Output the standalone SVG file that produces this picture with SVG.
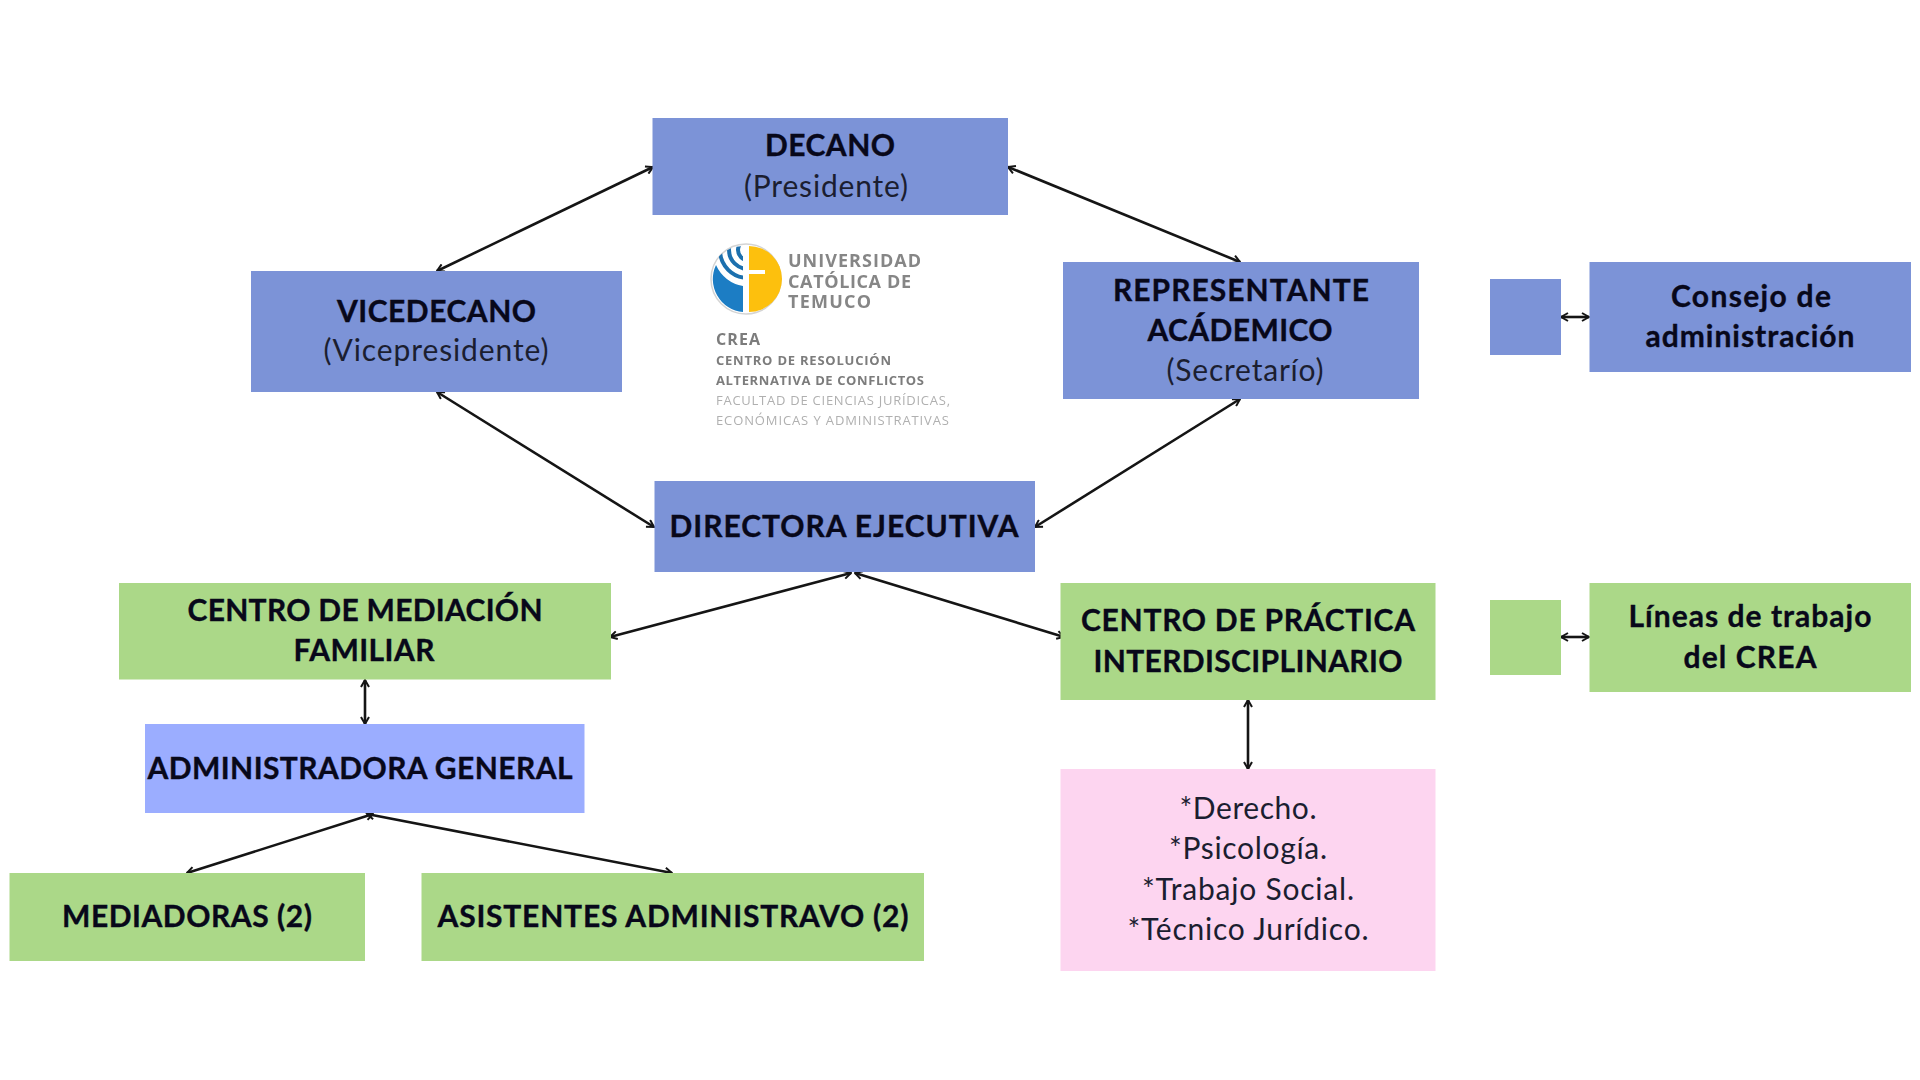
<svg xmlns="http://www.w3.org/2000/svg" width="1920" height="1080" viewBox="0 0 1920 1080">
<style>
text{font-family:"Lato","Liberation Sans",sans-serif;fill:#08081a;text-anchor:middle}
.b{font-weight:700;font-size:30px;stroke:#08081a;stroke-width:.35}
.r{font-weight:400;font-size:30px;fill:#1b1e30}
.blue{fill:#7c93d7}.green{fill:#abd888}.lav{fill:#9badff}.pink{fill:#fdd5f0}
.c line{stroke:#151515;stroke-width:2.6;marker-start:url(#a);marker-end:url(#a)}
.lg{font-family:"Open Sans","Liberation Sans",sans-serif;fill:#868686;text-anchor:start}
.lg1{font-size:18px;font-weight:700}.lg2{font-size:13px;font-weight:700;fill:#7c7c7c}.lg3{font-size:13px;fill:#b0b0b0}
</style>
<defs>
<marker id="a" viewBox="0 0 10 10" refX="9" refY="5" markerWidth="10" markerHeight="10" markerUnits="userSpaceOnUse" orient="auto-start-reverse"><path d="M2 1 9 5 2 9" fill="none" stroke="#151515" stroke-width="2"/></marker>
<filter id="soft"><feGaussianBlur stdDeviation="0.5"/></filter>
<clipPath id="lh"><path d="M743 246A33 33 0 0 0 743 312Z"/></clipPath>
</defs>
<rect width="1920" height="1080" fill="#fff"/>
<g id="connectors" class="c">
<line x1="653" y1="167" x2="437" y2="271"/>
<line x1="1008" y1="167" x2="1240" y2="262"/>
<line x1="437" y1="392" x2="654" y2="527"/>
<line x1="1240" y1="399" x2="1035" y2="527"/>
<line x1="851" y1="573" x2="610" y2="637"/>
<line x1="855" y1="573" x2="1064" y2="637"/>
<line x1="365" y1="680" x2="365" y2="724"/>
<line x1="373" y1="814" x2="187" y2="873"/>
<line x1="367" y1="814" x2="672" y2="873"/>
<line x1="1248" y1="700" x2="1248" y2="769"/>
<line x1="1561" y1="317" x2="1589" y2="317"/>
<line x1="1561" y1="637" x2="1589" y2="637"/>
</g>
<g id="decano"><rect class="blue" x="652.500" y="118" width="355.500" height="97"/>
<text class="b" x="830" y="156" textLength="130">DECANO</text>
<text class="r" x="826" y="197" textLength="164">(Presidente)</text></g>
<g id="vicedecano"><rect class="blue" x="251" y="271" width="371" height="121"/>
<text class="b" x="436.500" y="322" textLength="199">VICEDECANO</text>
<text class="r" x="436" y="361" textLength="225">(Vicepresidente)</text></g>
<g id="representante"><rect class="blue" x="1063" y="262" width="356" height="137"/>
<text class="b" x="1241" y="301" textLength="256">REPRESENTANTE</text>
<text class="b" x="1240" y="341" textLength="185">ACÁDEMICO</text>
<text class="r" x="1245" y="381" textLength="157">(Secretarío)</text></g>
<g id="leyenda-azul"><rect class="blue" x="1490" y="279" width="71" height="76"/></g>
<g id="consejo"><rect class="blue" x="1589.500" y="262" width="321.500" height="110"/>
<text class="b" x="1751" y="307" textLength="160">Consejo de</text>
<text class="b" x="1750" y="347" textLength="209">administración</text></g>
<g id="directora"><rect class="blue" x="654.500" y="481" width="380.500" height="91"/>
<text class="b" x="844" y="537" textLength="349">DIRECTORA EJECUTIVA</text></g>
<g id="centro-mediacion"><rect class="green" x="119" y="583" width="492" height="96.500"/>
<text class="b" x="365" y="621" textLength="355">CENTRO DE MEDIACIÓN</text>
<text class="b" x="364" y="661" textLength="141">FAMILIAR</text></g>
<g id="centro-practica"><rect class="green" x="1060.500" y="583" width="375" height="117"/>
<text class="b" x="1248" y="631" textLength="334">CENTRO DE PRÁCTICA</text>
<text class="b" x="1248" y="672" textLength="309">INTERDISCIPLINARIO</text></g>
<g id="leyenda-verde"><rect class="green" x="1490" y="600" width="71" height="75"/></g>
<g id="lineas"><rect class="green" x="1589.500" y="583" width="321.500" height="109"/>
<text class="b" x="1750" y="627" textLength="243">Líneas de trabajo</text>
<text class="b" x="1750" y="668" textLength="133">del CREA</text></g>
<g id="administradora"><rect class="lav" x="145" y="724" width="439.500" height="89"/>
<text class="b" x="360" y="779" textLength="425">ADMINISTRADORA GENERAL</text></g>
<g id="mediadoras"><rect class="green" x="9.500" y="873" width="355.500" height="88"/>
<text class="b" x="187" y="927" textLength="250">MEDIADORAS (2)</text></g>
<g id="asistentes"><rect class="green" x="421.500" y="873" width="502.500" height="88"/>
<text class="b" x="673" y="927" textLength="471">ASISTENTES ADMINISTRAVO (2)</text></g>
<g id="carreras"><rect class="pink" x="1060.500" y="769" width="375" height="202"/>
<text class="r" x="1248" y="819" textLength="137">*Derecho.</text>
<text class="r" x="1248" y="859" textLength="158">*Psicología.</text>
<text class="r" x="1248" y="900" textLength="212">*Trabajo Social.</text>
<text class="r" x="1248" y="940" textLength="241">*Técnico Jurídico.</text></g>
<g id="logo" filter="url(#soft)">
<circle cx="746" cy="279" r="35" fill="#fff" stroke="#d4d4d4" stroke-width="1.500"/>
<path d="M743 286A36 36 0 0 1 716 265A33 33 0 0 0 743 312Z" fill="#1b7dc4"/>
<path d="M749 246A33 33 0 0 1 749 312Z" fill="#fdc011"/>
<g clip-path="url(#lh)" fill="none" stroke="#1b6fae" stroke-width="4"><circle cx="748" cy="250" r="28"/><circle cx="748" cy="250" r="19"/><circle cx="748" cy="250" r="10"/></g>
<rect x="745" y="270" width="20" height="4" fill="#fff"/>
<text class="lg lg1" x="788" y="267" textLength="133">UNIVERSIDAD</text>
<text class="lg lg1" x="788" y="288" textLength="123">CATÓLICA DE</text>
<text class="lg lg1" x="788" y="308" textLength="83">TEMUCO</text>
<text class="lg lg2" x="716" y="345" textLength="44" style="font-size:16px">CREA</text>
<text class="lg lg2" x="716" y="365" textLength="175">CENTRO DE RESOLUCIÓN</text>
<text class="lg lg2" x="716" y="385" textLength="208">ALTERNATIVA DE CONFLICTOS</text>
<text class="lg lg3" x="716" y="405" textLength="234">FACULTAD DE CIENCIAS JURÍDICAS,</text>
<text class="lg lg3" x="716" y="425" textLength="233">ECONÓMICAS Y ADMINISTRATIVAS</text>
</g>
</svg>
